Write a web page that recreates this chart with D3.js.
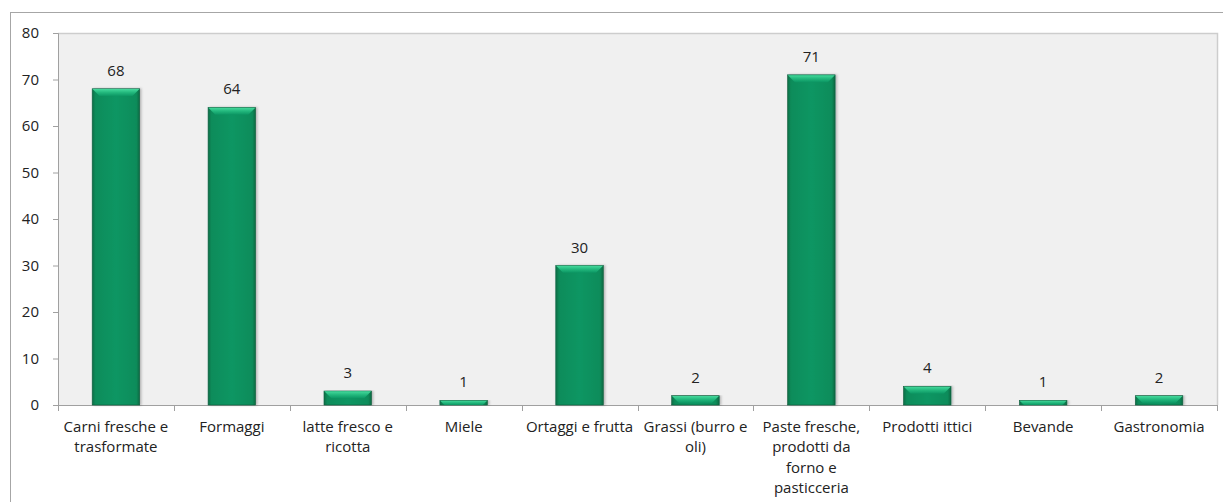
<!DOCTYPE html>
<html>
<head>
<meta charset="utf-8">
<script src="https://cdn.jsdelivr.net/npm/d3@7"></script>
<style>
  html, body { margin: 0; padding: 0; background: #fff; }
  svg { display: block; }
  text { font-family: "Open Sans", "Liberation Sans", sans-serif; fill: #222; }
</style>
</head>
<body>
<svg id="chart" width="1223" height="502"></svg>
<script>
// Product categories and counts
const categories = [
  "Carni fresche e trasformate",
  "Formaggi",
  "latte fresco e ricotta",
  "Miele",
  "Ortaggi e frutta",
  "Grassi (burro e oli)",
  "Paste fresche, prodotti da forno e pasticceria",
  "Prodotti ittici",
  "Bevande",
  "Gastronomia"
];
const values = [68, 64, 3, 1, 30, 2, 71, 4, 1, 2];
// Wrapped axis labels, one entry per category
const tickLabels = [
  ["Carni fresche e", "trasformate"],
  ["Formaggi"],
  ["latte fresco e", "ricotta"],
  ["Miele"],
  ["Ortaggi e frutta"],
  ["Grassi (burro e", "oli)"],
  ["Paste fresche,", "prodotti da", "forno e", "pasticceria"],
  ["Prodotti ittici"],
  ["Bevande"],
  ["Gastronomia"]
];
const yTicks = [0, 10, 20, 30, 40, 50, 60, 70, 80];

const svg = d3.select("#chart");
const W = 1223, H = 502;
const plot = { left: 58, top: 33, right: 1217, bottom: 405 };
const FS = 15;

// outer chart frame
svg.append("rect")
  .attr("x", 10.5).attr("y", 12.5)
  .attr("width", W - 10).attr("height", H - 10)
  .attr("fill", "#fff").attr("stroke", "#a6a6a6").attr("stroke-width", 1);

const x = d3.scaleBand().domain(categories).range([plot.left, plot.right]).paddingInner(0.59).paddingOuter(0.295);
const y = d3.scaleLinear().domain([0, 80]).range([plot.bottom, plot.top]);

// plot area
svg.append("rect")
  .attr("x", plot.left).attr("y", plot.top)
  .attr("width", plot.right - plot.left).attr("height", plot.bottom - plot.top)
  .attr("fill", "#f0f0f0");
svg.append("path")
  .attr("d", `M${plot.left},${plot.top + 0.5}H${plot.right + 0.5}V${plot.bottom}`)
  .attr("fill", "none").attr("stroke", "#cdcdcd").attr("stroke-width", 1.5);

const defs = svg.append("defs");
const bodyGrad = defs.append("linearGradient").attr("id", "barBody").attr("x1", 0).attr("x2", 1).attr("y1", 0).attr("y2", 0);
[[0, "#0a6e47"], [0.07, "#0c8c5a"], [0.5, "#0c9663"], [0.93, "#0c8c5a"], [1, "#096842"]]
  .forEach(([o, c]) => bodyGrad.append("stop").attr("offset", o).attr("stop-color", c));
const capGrad = defs.append("linearGradient").attr("id", "barTop").attr("x1", 0).attr("x2", 0).attr("y1", 0).attr("y2", 1);
[[0, "#45d99c"], [0.5, "#22b77c"], [1, "#0c9663"]]
  .forEach(([o, c]) => capGrad.append("stop").attr("offset", o).attr("stop-color", c));

// soft drop shadow behind the bars
const shadow = defs.append("filter").attr("id", "barShadow").attr("x", "-20%").attr("y", "-5%").attr("width", "140%").attr("height", "110%");
shadow.append("feDropShadow").attr("dx", 1.5).attr("dy", 0).attr("stdDeviation", 1.2).attr("flood-color", "#000").attr("flood-opacity", 0.25);

// y axis
const yAxis = svg.append("g").attr("transform", `translate(${plot.left},0)`)
  .call(d3.axisLeft(y).tickValues(yTicks).tickSize(5).tickPadding(14).tickFormat(d3.format("d")));
yAxis.select(".domain").attr("stroke", "#a0a0a0");
yAxis.selectAll(".tick line").attr("stroke", "#a0a0a0");
yAxis.selectAll(".tick text").attr("font-size", FS).attr("fill", "#222");

// x axis with ticks at category boundaries
const xAxisG = svg.append("g").attr("transform", `translate(0,${plot.bottom})`);
xAxisG.append("line").attr("x1", plot.left).attr("x2", plot.right).attr("y1", 0.5).attr("y2", 0.5).attr("stroke", "#a0a0a0");
const step = x.step();
xAxisG.selectAll(".sep").data(d3.range(categories.length + 1)).join("line")
  .attr("x1", i => Math.round(plot.left + i * step) + 0.5)
  .attr("x2", i => Math.round(plot.left + i * step) + 0.5)
  .attr("y1", 0).attr("y2", 6).attr("stroke", "#a0a0a0");
xAxisG.selectAll(".lbl").data(categories).join("text")
  .attr("text-anchor", "middle").attr("font-size", FS)
  .attr("x", d => x(d) + x.bandwidth() / 2)
  .each(function (d, i) {
    d3.select(this).selectAll("tspan").data(tickLabels[i]).join("tspan")
      .attr("x", x(d) + x.bandwidth() / 2)
      .attr("y", (t, j) => 27 + j * 20.3)
      .text(t => t);
  });

// bars
const bars = svg.append("g").selectAll("g").data(categories).join("g");
bars.append("rect")
  .attr("x", d => x(d)).attr("width", x.bandwidth())
  .attr("y", (d, i) => y(values[i])).attr("height", (d, i) => y(0) - y(values[i]))
  .attr("fill", "url(#barBody)").attr("stroke", "#0a5e3d").attr("stroke-width", 0.6)
  .attr("filter", "url(#barShadow)");
bars.append("path")
  .attr("d", (d, i) => {
    const x0 = x(d) + 0.3, x1 = x(d) + x.bandwidth() - 0.3;
    const y0 = y(values[i]) + 0.3;
    const h = Math.min(7, y(0) - y0);
    const inset = Math.min(7, h);
    return `M${x0},${y0}H${x1}L${x1 - inset},${y0 + h}H${x0 + inset}Z`;
  })
  .attr("fill", "url(#barTop)");

// value labels
svg.append("g").selectAll("text").data(categories).join("text")
  .attr("text-anchor", "middle").attr("font-size", FS)
  .attr("x", d => x(d) + x.bandwidth() / 2)
  .attr("y", (d, i) => y(values[i]) - 13)
  .text((d, i) => values[i]);
</script>
</body>
</html>
